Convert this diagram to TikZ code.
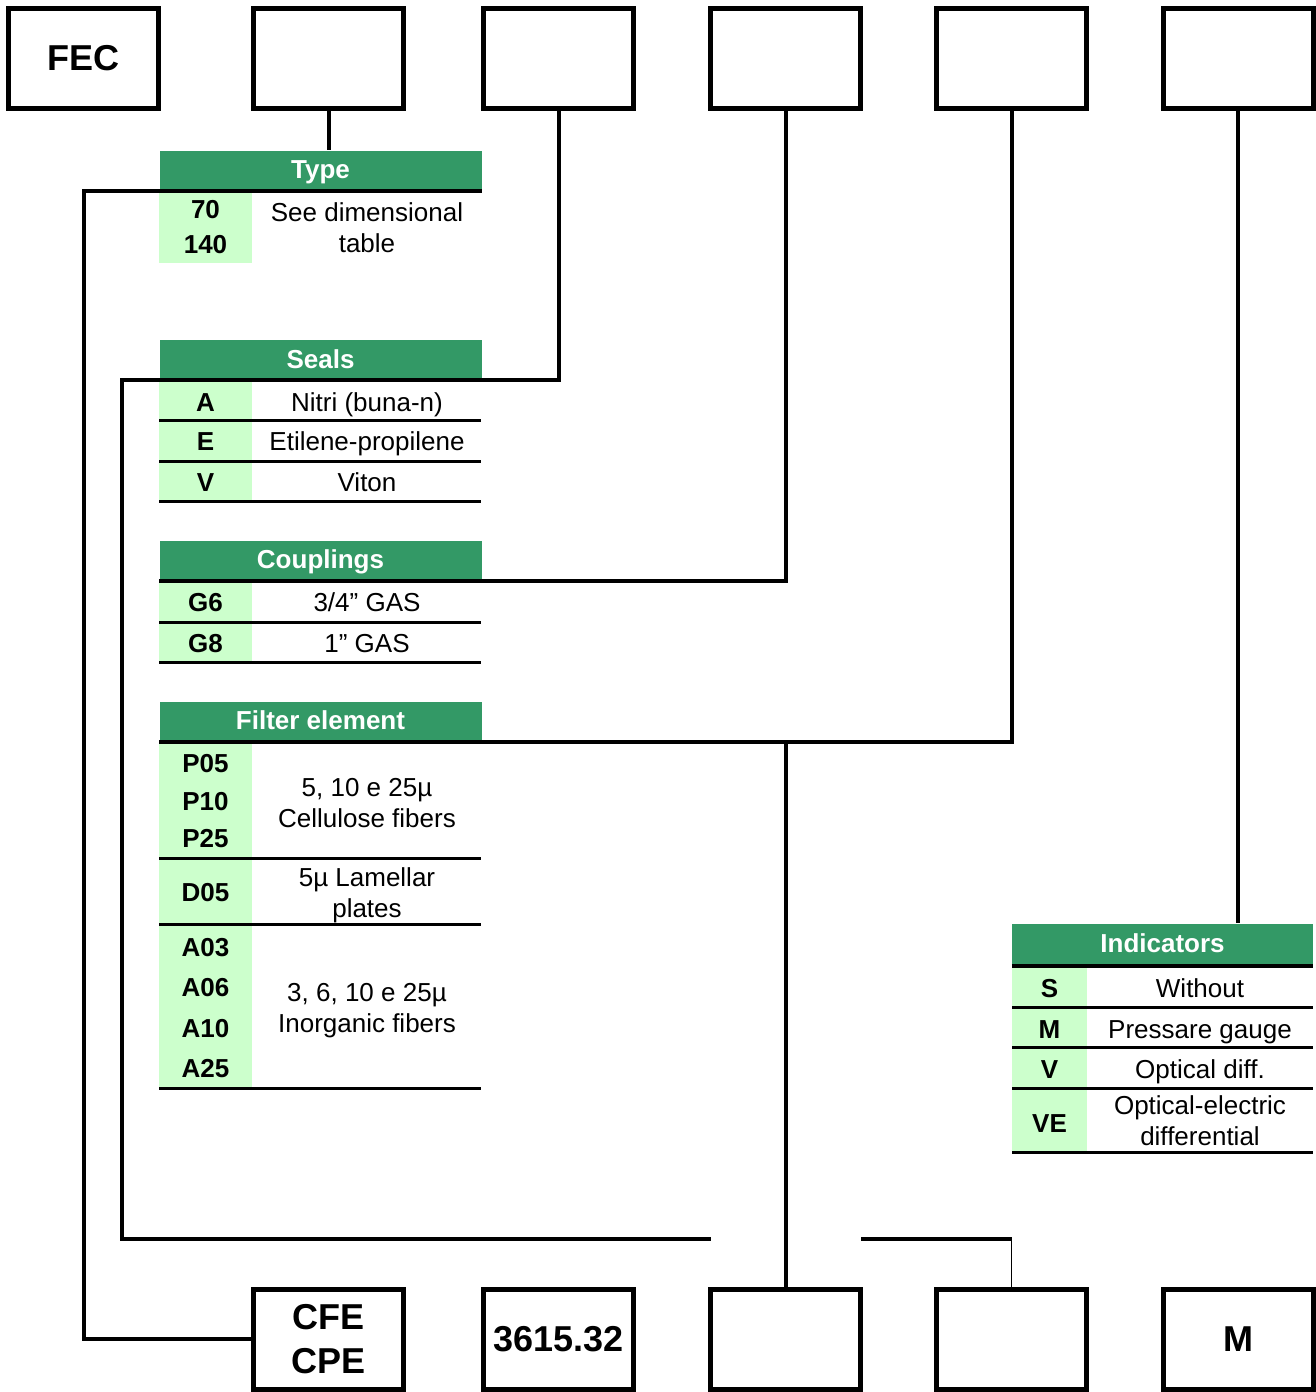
\documentclass[tikz,border=0pt]{standalone}
\usepackage{fontspec}
\setmainfont{Liberation Sans}
\usetikzlibrary{positioning}
\definecolor{headGreen}{RGB}{51,153,102}
\definecolor{codeGreen}{RGB}{204,255,204}

\tikzset{
  codebox/.style={draw, line width=5pt, minimum width=150pt, minimum height=100pt,
    inner sep=0pt, align=center, font=\fontsize{36}{43.5}\selectfont\bfseries},
  header/.style={fill=headGreen, text=white, minimum width=322pt, minimum height=40pt,
    inner sep=0pt, text height=19pt, text depth=3pt, font=\fontsize{26}{31}\selectfont\bfseries},
  code/.style={inner sep=0pt, text height=19pt, text depth=0pt, font=\fontsize{26}{31}\selectfont\bfseries},
  desc/.style={inner sep=0pt, text height=19pt, text depth=0pt, font=\fontsize{26}{31}\selectfont},
  desclines/.style={inner sep=0pt, align=center, font=\fontsize{26}{31}\selectfont},
  link/.style={line width=4pt},
  thinlink/.style={line width=1.5pt},
  rule/.style={line width=3pt},
}

\begin{document}
\begin{tikzpicture}[x=1pt,y=-1pt]
    \useasboundingbox (0,0) rectangle (1316,1392);

    % code column backgrounds
    \fill[codeGreen] (159,190) rectangle (252,263);
    \fill[codeGreen] (159,380) rectangle (252,501);
    \fill[codeGreen] (159,580) rectangle (252,662);
    \fill[codeGreen] (159,741) rectangle (252,1088);
    \fill[codeGreen] (1012,966) rectangle (1087,1152);

    % draw table headers
    \node[header] (hType) at (320.5,170.5) {Type};
    \node[header] (hSeals) at (320.5,360) {Seals};
    \node[header] (hCoup) at (320.5,560.5) {Couplings};
    \node[header] (hFilt) at (320.5,721.5) {Filter element};
    \node[header, minimum width=301pt, minimum height=42pt] (hInd) at (1162.5,944.5) {Indicators};

    % Type
    \node[code] (type70) at (205.5,209) {70};
    \node[code] (type140) at (205.5,244) {140};
    \node[desclines] (typeDesc) at (367,228) {See dimensional\\table};

    % Seals
    \foreach \c/\y in {A/401.5,E/440.5,V/481.5}
        \node[code] (seal\c) at (205.5,\y) {\c};
    \node[desc] (sealDescA) at (367,401.5) {Nitri (buna-n)};
    \node[desc] (sealDescE) at (367,440.5) {Etilene-propilene};
    \node[desc] (sealDescV) at (367,481.5) {Viton};

    % Couplings
    \node[code] (coupG6) at (205.5,602) {G6};
    \node[code] (coupG8) at (205.5,642.5) {G8};
    \node[desc] (coupDescG6) at (367,602) {3/4” GAS};
    \node[desc] (coupDescG8) at (367,642.5) {1” GAS};

    % Filter element
    \foreach \c/\y in {P05/763,P10/800.5,P25/838,D05/892,A03/947,A06/987,A10/1027.5,A25/1067.5}
        \node[code] (filt\c) at (205.5,\y) {\c};
    \node[desclines] (filtDescP) at (367,803) {5, 10 e 25µ\\Cellulose fibers};
    \node[desclines] (filtDescD) at (367,895.5) {5µ Lamellar\\plates};
    \node[desclines] (filtDescA) at (367,1010.5) {3, 6, 10 e 25µ\\Inorganic fibers};

    % Indicators
    \foreach \c/\y in {S/987.5,M/1029,V/1069,VE/1122.5}
        \node[code] (ind\c) at (1049.5,\y) {\c};
    \node[desc] (indDescS) at (1200,987.5) {Without};
    \node[desc] (indDescM) at (1200,1029) {Pressare gauge};
    \node[desc] (indDescV) at (1200,1069) {Optical diff.};
    \node[desclines] (indDescVE) at (1200,1121) {Optical-electric\\differential};

    % row rules
    \foreach \y in {420,461,501.5,622.5,662,858,924,1088}
        \draw[rule] (159,\y) -- (481,\y);
    \foreach \y in {1007,1047,1088,1152}
        \draw[rule] (1012,\y) -- (1313,\y);
    \draw[link] (hInd.south west) -- (hInd.south east);

    % draw code boxes
    \node[codebox] (t1) at (83.5,58.5) {FEC};
    \foreach \n/\x in {2/328.5,3/558.5,4/785.5,5/1011.5,6/1238}
        \node[codebox] (t\n) at (\x,58.5) {};
    \node[codebox] (b2) at (328.5,1339) {CFE\\CPE};
    \node[codebox] (b3) at (558.5,1339) {3615.32};
    \node[codebox] (b4) at (785.5,1339) {};
    \node[codebox] (b5) at (1011.5,1339) {};
    \node[codebox] (b6) at (1238,1339) {M};

    % draw connectors
    \coordinate (typeBend) at (84,1339);
    \coordinate (sealBend) at (121.5,1238.5);
    \coordinate (gapL) at (711,1238.5);
    \coordinate (gapR) at (861,1238.5);

    \draw[link] (t2.south) -- (t2.south |- hType.north);
    \draw[link] (hType.south east) -- (typeBend |- hType.south) -- (typeBend) -- (b2.west);

    \draw[link] (t3.south) |- (sealBend |- hSeals.south) -- (sealBend) -- (gapL);
    \draw[link] (gapR) -- (gapR -| b5.north);
    \draw[thinlink] (gapR -| b5.north) -- (b5.north);

    \draw[link] (t4.south) |- (hCoup.south west);

    \draw[link] (t5.south) |- (hFilt.south west);
    \draw[link] (b4.north) -- (b4.north |- hFilt.south);

    \draw[link] (t6.south) -- (t6.south |- hInd.north);
\end{tikzpicture}
\end{document}
